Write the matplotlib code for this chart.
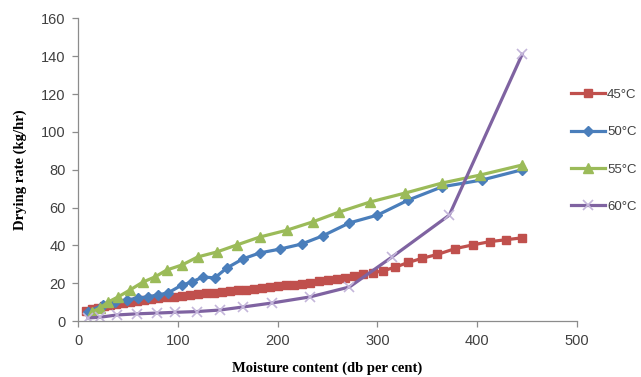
import matplotlib
matplotlib.use('Agg')
import matplotlib.pyplot as plt

# moisture content (db per cent) vs drying rate (kg/hr)
x45 = [8, 14, 20, 26, 32, 38, 45, 52, 59, 66, 73, 80, 88, 96, 104, 112, 120, 128,
       136, 144, 152, 160, 168, 176, 184, 192, 200, 208, 216, 224, 232, 241, 250,
       259, 268, 277, 286, 296, 306, 318, 331, 345, 360, 378, 396, 413, 429, 445]
y45 = [5.5, 6.3, 7.0, 7.7, 8.3, 8.9, 9.5, 10.1, 10.6, 11.1, 11.6, 12.0, 12.5, 12.9,
       13.4, 13.8, 14.2, 14.6, 15.0, 15.4, 15.8, 16.2, 16.6, 17.0, 17.4, 17.8, 18.3,
       18.8, 19.3, 19.8, 20.3, 20.9, 21.6, 22.3, 23.0, 23.8, 24.6, 25.5, 26.6, 28.5,
       31.0, 33.2, 35.2, 38.3, 40.3, 42.0, 43.0, 44.0]

x50 = [10, 25, 37, 49, 60, 70, 80, 90, 104, 114, 125, 137, 149, 165, 182, 202,
       224, 245, 272, 300, 331, 365, 405, 445]
y50 = [4.8, 8.5, 10.0, 11.0, 12.2, 12.7, 13.8, 14.8, 19.0, 20.6, 23.3, 22.8, 28.0,
       32.8, 36.0, 38.0, 40.7, 45.0, 51.9, 56.0, 64.0, 71.0, 74.6, 80.0]

x55 = [14, 22, 30, 40, 52, 65, 77, 89, 104, 120, 139, 159, 182, 209, 235, 262,
       293, 328, 365, 403, 445]
y55 = [4.8, 6.9, 10.0, 12.7, 16.4, 20.6, 23.3, 27.0, 29.6, 33.9, 36.5, 40.2, 44.4,
       48.0, 52.4, 57.7, 63.0, 67.7, 73.0, 77.2, 82.5]

x60 = [10, 22, 39, 59, 79, 97, 119, 142, 165, 194, 232, 272, 315, 372, 445]
y60 = [1.6, 2.0, 3.2, 3.8, 4.2, 4.6, 5.0, 5.8, 7.4, 9.5, 12.7, 18.0, 34.0, 56.0, 141.0]

labels = ['45°C', '50°C', '55°C', '60°C']

plt.rcParams['font.family'] = ['Liberation Sans', 'DejaVu Sans']

fig = plt.figure(figsize=(6.41, 3.77), dpi=100)
ax = fig.add_axes([0.1217, 0.1485, 0.7785, 0.8025])

ax.plot(x45, y45, color='#C0504D', lw=2.3, marker='s', ms=6.0,
        mec='#C0504D', label=labels[0])
ax.plot(x50, y50, color='#4A7EBB', lw=2.3, marker='D', ms=4.8,
        mec='#4A7EBB', label=labels[1])
ax.plot(x55, y55, color='#9BBB59', lw=2.3, marker='^', ms=7.0,
        mec='#9BBB59', label=labels[2])
ax.plot(x60, y60, color='#7F63A1', lw=2.3, marker='x', ms=6.5,
        mec='#C4B6DA', mew=1.2, label=labels[3])

ax.set_xlim(0, 500)
ax.set_ylim(0, 160)
ax.set_xticks(range(0, 501, 100))
ax.set_yticks(range(0, 161, 20))

for s in ['top', 'right']:
    ax.spines[s].set_visible(False)
for s in ['left', 'bottom']:
    ax.spines[s].set_color('#8C8C8C')
    ax.spines[s].set_linewidth(0.9)
ax.tick_params(direction='out', length=4, width=0.9, color='#8C8C8C',
               labelsize=10.5, labelcolor='#404040', pad=5)

ax.set_xlabel('Moisture content (db per cent)', family='Liberation Serif',
              fontweight='bold', fontsize=10.5, labelpad=10)
ax.set_ylabel('Drying rate (kg/hr)', family='Liberation Serif',
              fontweight='bold', fontsize=10.5, labelpad=10)

fig.legend(loc='center left', bbox_to_anchor=(0.876, 0.600), frameon=False,
           fontsize=9.5, labelspacing=1.9, handlelength=2.6, handletextpad=0.15,
           borderpad=0.2, labelcolor='#404040')

fig.savefig('out.png', dpi=100)
